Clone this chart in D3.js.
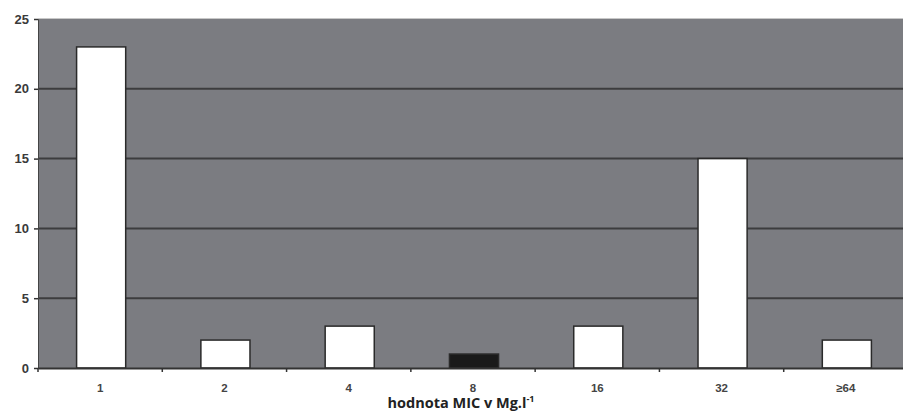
<!DOCTYPE html>
<html><head><meta charset="utf-8">
<script src="https://cdn.jsdelivr.net/npm/d3@7/dist/d3.min.js"></script>
<style>body{margin:0;background:#fff;}svg{display:block;}</style>
</head><body><svg id="c" width="903" height="412"></svg>
<script>
const categories = ["1","2","4","8","16","32","≥64"];
const values = [23,2,3,1,3,15,2];
const barColors = ["#ffffff","#ffffff","#ffffff","#1a1a1a","#ffffff","#ffffff","#ffffff"];
const yTicks = [0,5,10,15,20,25];

const svg = d3.select("#c");
const m = {left:38, top:19, right:908, bottom:368};
const x = d3.scaleBand().domain(categories).range([m.left, m.right]).paddingInner(0).paddingOuter(0);
const y = d3.scaleLinear().domain([0,25]).range([m.bottom, m.top]);

svg.append("rect").attr("x",m.left).attr("y",m.top).attr("width",m.right-m.left).attr("height",m.bottom-m.top).attr("fill","#7b7c81");
svg.append("line").attr("x1",m.left).attr("x2",m.right).attr("y1",m.top-0.5).attr("y2",m.top-0.5).attr("stroke","#c8c8c8").attr("stroke-width",1);

svg.append("g").selectAll("line").data(yTicks.filter(d=>d>0 && d<25)).join("line")
  .attr("x1",m.left).attr("x2",m.right).attr("y1",d=>y(d)).attr("y2",d=>y(d))
  .attr("stroke","#3c3c3e").attr("stroke-width",2);

const bw = x.bandwidth()*0.395;
svg.append("g").selectAll("rect").data(values).join("rect")
  .attr("x",(d,i)=>x(categories[i])+x.bandwidth()/2-bw/2+1)
  .attr("y",d=>y(d))
  .attr("width",bw)
  .attr("height",d=>y(0)-y(d))
  .attr("fill",(d,i)=>barColors[i])
  .attr("stroke","#2a2a2a").attr("stroke-width",1.5);

// axes
const ya = svg.append("g").attr("transform",`translate(${m.left},0)`)
  .call(d3.axisLeft(y).tickValues(yTicks).tickSize(4).tickPadding(5));
ya.select(".domain").attr("stroke","#444").attr("stroke-width",1);
ya.selectAll(".tick line").attr("stroke","#333").attr("stroke-width",1.5);
ya.selectAll("text").attr("font-family","Arial, Liberation Sans, sans-serif").attr("font-size",13).attr("font-weight","bold").attr("fill","#3a3a3a");

const xa = svg.append("g").attr("transform",`translate(0,${m.bottom})`)
  .call(d3.axisBottom(x).tickSize(0).tickPadding(16));
xa.select(".domain").attr("stroke","#333").attr("stroke-width",2);
xa.selectAll("text").attr("font-family","Arial, Liberation Sans, sans-serif").attr("font-size",11.5).attr("font-weight","bold").attr("fill","#444");
// boundary ticks between categories
svg.append("g").selectAll("line").data(categories).join("line")
  .attr("x1",d=>x(d)).attr("x2",d=>x(d)).attr("y1",m.bottom).attr("y2",m.bottom+4)
  .attr("stroke","#333").attr("stroke-width",1.5);

const t = svg.append("text").attr("x",461).attr("y",408).attr("text-anchor","middle")
  .attr("font-family","Open Sans, sans-serif").attr("font-weight","bold").attr("font-size",14.5).attr("fill","#222");
t.append("tspan").text("hodnota MIC v Mg.l");
t.append("tspan").attr("dy",-6).attr("font-size",9).text("-1");
</script></body></html>
